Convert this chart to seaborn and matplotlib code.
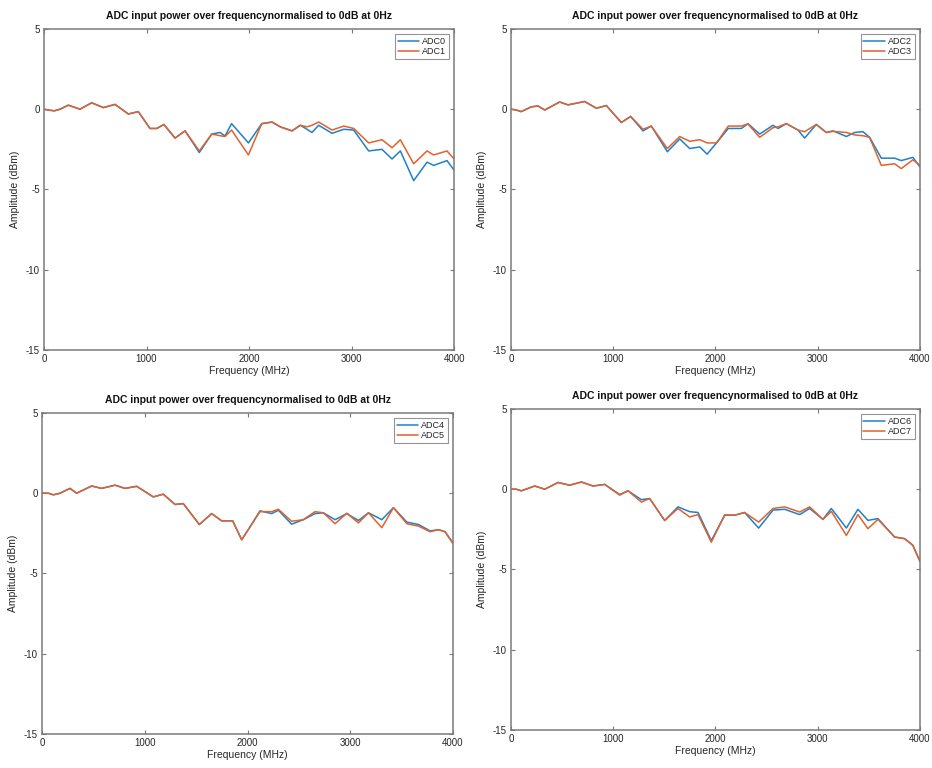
import matplotlib
matplotlib.use("Agg")
import matplotlib.pyplot as plt
import seaborn as sns
import pandas as pd
import numpy as np

sns.set_style("ticks")
plt.rcParams['font.family'] = ['Liberation Sans', 'DejaVu Sans']
plt.rcParams['axes.unicode_minus'] = False

# Frequency grids (MHz)
freq01 = [0, 40, 100, 156, 237, 351, 465, 580, 693, 823, 920, 1034, 1100, 1170, 1278, 1376, 1515,
          1636, 1717, 1766, 1830, 1994, 2124, 2224, 2305, 2419, 2500, 2565, 2614, 2679, 2810, 2924,
          3021, 3167, 3297, 3395, 3476, 3606, 3736, 3801, 3931, 4000]
adc0 = [0, -0.05, -0.1, 0.0, 0.25, 0.0, 0.4, 0.1, 0.3, -0.3, -0.15, -1.2, -1.2, -0.95, -1.8, -1.35, -2.7,
        -1.55, -1.45, -1.67, -0.9, -2.1, -0.9, -0.8, -1.1, -1.35, -1.0, -1.25, -1.45, -1.0, -1.5, -1.25,
        -1.3, -2.6, -2.5, -3.1, -2.6, -4.45, -3.3, -3.5, -3.2, -3.8]
adc1 = [0, -0.05, -0.1, 0.0, 0.25, 0.0, 0.4, 0.1, 0.3, -0.3, -0.15, -1.2, -1.2, -0.95, -1.8, -1.35, -2.6,
        -1.55, -1.65, -1.7, -1.3, -2.85, -0.9, -0.8, -1.1, -1.35, -1.0, -1.1, -1.0, -0.8, -1.3, -1.05,
        -1.2, -2.1, -1.9, -2.4, -1.9, -3.4, -2.6, -2.85, -2.6, -3.1]

freq23 = [0, 52, 100, 200, 264, 330, 476, 558, 720, 835, 932, 1079, 1170, 1291, 1372, 1529, 1650,
          1748, 1846, 1918, 2010, 2125, 2253, 2318, 2432, 2563, 2612, 2693, 2807, 2872, 2986, 3084,
          3149, 3280, 3361, 3442, 3507, 3622, 3752, 3817, 3931, 4000]
adc2 = [0, -0.05, -0.15, 0.15, 0.2, -0.05, 0.45, 0.27, 0.48, 0.06, 0.23, -0.83, -0.45, -1.35, -1.05, -2.65,
        -1.85, -2.45, -2.35, -2.8, -2.1, -1.2, -1.2, -0.9, -1.55, -1.0, -1.2, -0.9, -1.3, -1.8, -0.95,
        -1.45, -1.35, -1.7, -1.45, -1.4, -1.75, -3.05, -3.05, -3.2, -3.0, -3.6]
adc3 = [0, -0.05, -0.15, 0.15, 0.2, -0.05, 0.45, 0.27, 0.48, 0.06, 0.23, -0.83, -0.45, -1.25, -1.05, -2.45,
        -1.7, -2.0, -1.9, -2.1, -2.1, -1.05, -1.05, -0.92, -1.75, -1.15, -1.1, -0.9, -1.3, -1.4, -0.95,
        -1.45, -1.38, -1.45, -1.6, -1.65, -1.75, -3.5, -3.4, -3.7, -3.15, -3.5]

freq45 = [0, 60, 110, 175, 272, 337, 483, 580, 710, 808, 921, 1083, 1180, 1294, 1375, 1531, 1651,
          1748, 1855, 1943, 2024, 2121, 2235, 2300, 2429, 2543, 2657, 2738, 2852, 2966, 3079, 3177,
          3307, 3420, 3550, 3664, 3777, 3858, 3922, 4000]
adc4 = [0, 0.0, -0.1, 0.0, 0.3, 0.0, 0.45, 0.3, 0.5, 0.3, 0.43, -0.23, -0.06, -0.7, -0.65, -1.95, -1.27,
        -1.72, -1.72, -2.9, -2.1, -1.1, -1.27, -1.06, -1.93, -1.65, -1.27, -1.22, -1.65, -1.27, -1.7, -1.22,
        -1.65, -0.9, -1.8, -1.95, -2.35, -2.27, -2.4, -3.1]
adc5 = [0, 0.0, -0.1, 0.0, 0.3, 0.0, 0.45, 0.3, 0.5, 0.3, 0.43, -0.23, -0.06, -0.7, -0.65, -1.95, -1.27,
        -1.72, -1.72, -2.9, -2.1, -1.15, -1.15, -1.0, -1.75, -1.65, -1.15, -1.22, -1.9, -1.25, -1.85, -1.22,
        -2.15, -0.9, -1.9, -2.05, -2.4, -2.27, -2.4, -3.15]

freq67 = [0, 52, 100, 232, 330, 460, 573, 688, 802, 916, 1063, 1144, 1275, 1356, 1503, 1633, 1748,
          1829, 1959, 2090, 2188, 2285, 2422, 2563, 2677, 2823, 2921, 3051, 3133, 3280, 3393, 3491,
          3589, 3752, 3850, 3931, 4000]
adc6 = [0, 0.0, -0.1, 0.2, 0.0, 0.42, 0.25, 0.45, 0.2, 0.3, -0.33, -0.1, -0.65, -0.58, -1.95, -1.1, -1.4,
        -1.45, -3.2, -1.62, -1.62, -1.45, -2.42, -1.3, -1.25, -1.58, -1.2, -1.88, -1.2, -2.42, -1.25, -1.94,
        -1.83, -2.98, -3.08, -3.5, -4.5]
adc7 = [0, 0.0, -0.1, 0.2, 0.0, 0.42, 0.25, 0.45, 0.2, 0.3, -0.37, -0.1, -0.8, -0.58, -1.95, -1.2, -1.73,
        -1.58, -3.3, -1.6, -1.62, -1.45, -2.05, -1.2, -1.1, -1.42, -1.1, -1.88, -1.38, -2.88, -1.58, -2.46,
        -1.88, -2.98, -3.08, -3.5, -4.5]

panels = [
    (freq01, adc0, adc1, "ADC0", "ADC1", [0.0472, 0.5443, 0.4400, 0.4180]),
    (freq23, adc2, adc3, "ADC2", "ADC3", [0.5483, 0.5443, 0.4388, 0.4180]),
    (freq45, adc4, adc5, "ADC4", "ADC5", [0.0451, 0.0443, 0.4410, 0.4180]),
    (freq67, adc6, adc7, "ADC6", "ADC7", [0.5483, 0.0495, 0.4388, 0.4180]),
]

colors = ["#1f80c8", "#e0622e"]
frame_col = "#7a7a7a"
text_col = "#262626"

fig = plt.figure(figsize=(9.32, 7.68), dpi=100)

for freq, a, b, na, nb, pos in panels:
    ax = fig.add_axes(pos)
    df = pd.DataFrame({
        "Frequency (MHz)": freq + freq,
        "Amplitude (dBm)": a + b,
        "ADC": [na] * len(freq) + [nb] * len(freq),
    })
    sns.lineplot(data=df, x="Frequency (MHz)", y="Amplitude (dBm)", hue="ADC",
                 palette=colors, linewidth=1.1, ax=ax, sort=False,
                 solid_joinstyle="round")
    ax.set_xlim(0, 4000)
    ax.set_ylim(-15, 5)
    ax.set_xticks([0, 1000, 2000, 3000, 4000])
    ax.set_yticks([-15, -10, -5, 0, 5])
    ax.tick_params(direction="in", top=True, right=True, length=3, width=0.8,
                   labelsize=7, color=frame_col, labelcolor=text_col, pad=3)
    for s in ax.spines.values():
        s.set_color(frame_col)
        s.set_linewidth(1.1)
    ax.set_xlabel("Frequency (MHz)", fontsize=7.5, labelpad=1, color=text_col)
    ax.set_ylabel("Amplitude (dBm)", fontsize=7.5, labelpad=4, color=text_col)
    ax.set_title("ADC input power over frequencynormalised to 0dB at 0Hz",
                 fontsize=7.5, fontweight="bold", pad=7, color="#111111")
    leg = ax.legend(loc="upper right", fontsize=6.5, frameon=True, fancybox=False,
                    handlelength=2.4, borderpad=0.3, labelspacing=0.1,
                    handletextpad=0.3, borderaxespad=0.6)
    leg.get_frame().set_edgecolor(frame_col)
    leg.get_frame().set_linewidth(0.8)

fig.savefig("out.png", dpi=100)
